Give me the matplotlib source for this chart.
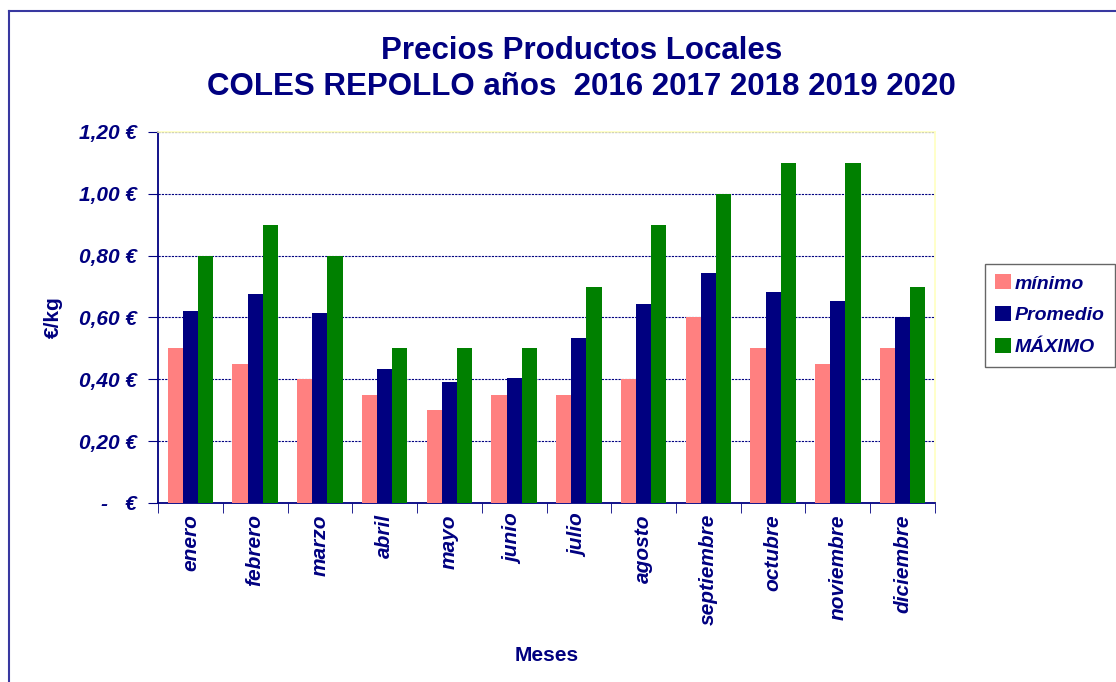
import numpy as np
import matplotlib
matplotlib.use("Agg")
import matplotlib.pyplot as plt
from matplotlib.lines import Line2D
from matplotlib.ticker import FuncFormatter

plt.rcParams['font.family'] = ['Liberation Sans', 'DejaVu Sans']

meses = ['enero', 'febrero', 'marzo', 'abril', 'mayo', 'junio', 'julio',
         'agosto', 'septiembre', 'octubre', 'noviembre', 'diciembre']
minimo = [0.50, 0.45, 0.40, 0.35, 0.30, 0.35, 0.35, 0.40, 0.60, 0.50, 0.45, 0.50]
promedio = [0.62, 0.675, 0.615, 0.433, 0.39, 0.405, 0.535, 0.645, 0.743, 0.683, 0.653, 0.603]
maximo = [0.80, 0.90, 0.80, 0.50, 0.50, 0.50, 0.70, 0.90, 1.00, 1.10, 1.10, 0.70]

navy = '#000080'
fig = plt.figure(figsize=(11.16, 6.82), dpi=100)
ax = fig.add_axes([0.1416, 0.2625, 0.6962, 0.544])

x = np.arange(len(meses))
w = 0.235
ax.bar(x - w, minimo, w, color='#ff8080', label='mínimo', zorder=3)
ax.bar(x, promedio, w, color=navy, label='Promedio', zorder=3)
ax.bar(x + w, maximo, w, color='#008000', label='MÁXIMO', zorder=3)

ax.set_xlim(-0.5, len(meses) - 0.5)
ax.set_ylim(0, 1.2)
ax.set_yticks(np.arange(0, 1.21, 0.2))


def euro(v, pos):
    if abs(v) < 1e-9:
        return '-   €'
    return '{:.2f} €'.format(v).replace('.', ',')


ax.yaxis.set_major_formatter(FuncFormatter(euro))
ax.set_xticks(x)
ax.set_xticklabels(meses, rotation=90)
ax.set_xticks(np.arange(-0.5, len(meses)), minor=True)
ax.tick_params(axis='x', which='major', length=0, pad=8)
ax.tick_params(axis='x', which='minor', length=7, color=navy, direction='out')
ax.tick_params(axis='y', length=7, color=navy, direction='out', pad=8)
for lab in ax.get_xticklabels() + ax.get_yticklabels():
    lab.set_fontsize(15)
    lab.set_fontweight('bold')
    lab.set_fontstyle('italic')
    lab.set_color(navy)

ax.grid(axis='y', color=navy, ls=(0, (2, 1)), lw=0.8, zorder=0)
for s in ['left', 'bottom']:
    ax.spines[s].set_color(navy)
    ax.spines[s].set_linewidth(1.3)
for s in ['top', 'right']:
    ax.spines[s].set_color('#ffffc0')
    ax.spines[s].set_linewidth(1.2)

ax.set_ylabel('€/kg', fontsize=15, fontweight='bold', color=navy, labelpad=12)
ax.set_xlabel('Meses', fontsize=15, fontweight='bold', color=navy, labelpad=15)

fig.text(0.521, 0.925, 'Precios Productos Locales', ha='center', va='center',
         fontsize=22.5, fontweight='bold', color=navy)
fig.text(0.521, 0.873, 'COLES REPOLLO años  2016 2017 2018 2019 2020', ha='center',
         va='center', fontsize=22.5, fontweight='bold', color=navy)

leg = ax.legend(loc='center left', bbox_to_anchor=(1.064, 0.506), frameon=True,
                fancybox=False, edgecolor='#404040', handlelength=0.8,
                handleheight=0.8, handletextpad=0.2, labelspacing=0.7,
                borderpad=0.55, borderaxespad=0,
                prop={'size': 14, 'weight': 'bold', 'style': 'italic'})
for t in leg.get_texts():
    t.set_color(navy)

fig.add_artist(Line2D([9 / 1116, 9 / 1116], [0, 1 - 11 / 682], color='#3838a0', lw=1.5))
fig.add_artist(Line2D([9 / 1116, 1], [1 - 11 / 682, 1 - 11 / 682], color='#3838a0', lw=1.5))

fig.savefig('out.png', dpi=100)
